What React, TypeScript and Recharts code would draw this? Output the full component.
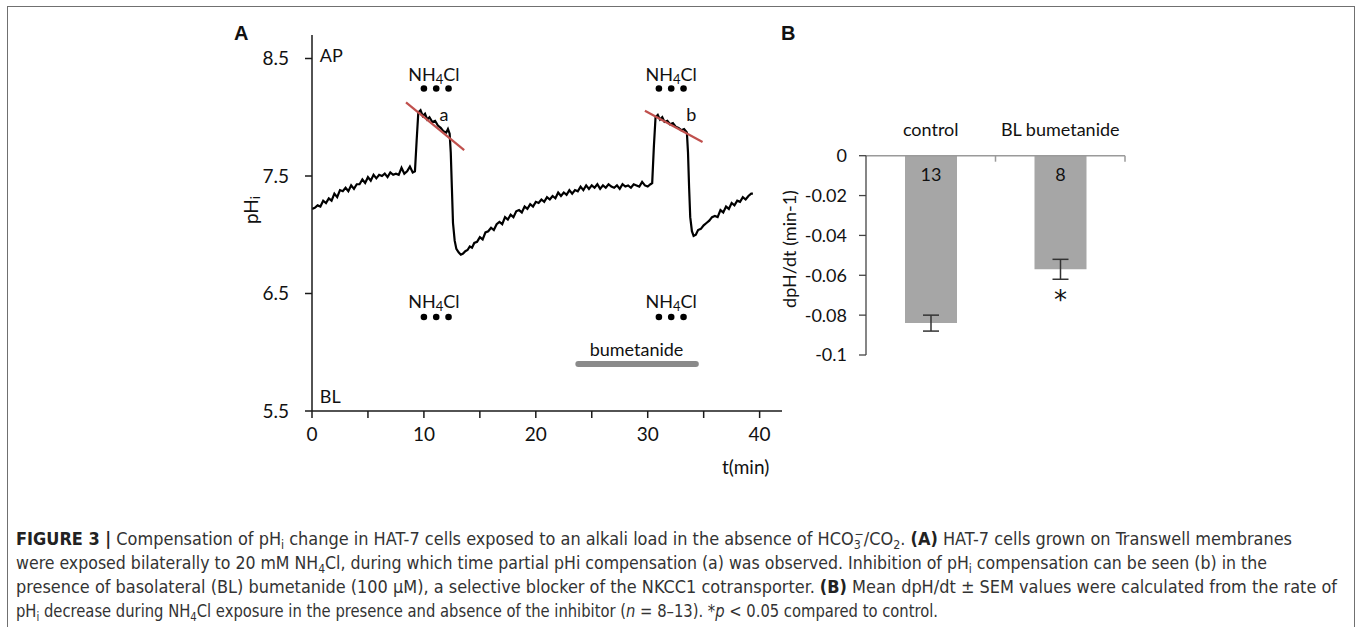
import React from "react";
import {
  LineChart,
  Line,
  XAxis,
  YAxis,
  ReferenceLine,
  ReferenceDot,
  BarChart,
  Bar,
  ErrorBar,
  LabelList,
} from "recharts";

// Panel A: pHi trace, [t (min), pH]
const trace: [number, number][] = [
  [0, 7.22], [0.25, 7.23], [0.5, 7.25], [0.75, 7.24], [1.0, 7.29], [1.25, 7.27],
  [1.5, 7.31], [1.75, 7.29], [2.0, 7.35], [2.25, 7.32], [2.5, 7.38], [2.75, 7.37],
  [3.0, 7.4], [3.25, 7.37], [3.5, 7.42], [3.75, 7.39], [4.0, 7.43], [4.25, 7.43],
  [4.5, 7.47], [4.75, 7.44], [5.0, 7.49], [5.25, 7.46], [5.5, 7.51], [5.75, 7.48],
  [6.0, 7.51], [6.25, 7.5], [6.5, 7.52], [6.75, 7.49], [7.0, 7.53], [7.25, 7.51],
  [7.5, 7.52], [7.75, 7.51], [8.0, 7.57], [8.25, 7.52], [8.5, 7.54], [8.75, 7.58],
  [9.0, 7.53], [9.2, 7.54], [9.35, 7.8], [9.5, 8.04], [9.7, 8.06], [9.9, 8.01],
  [10.1, 8.03], [10.3, 7.98], [10.5, 8.0], [10.75, 7.96], [11.0, 7.97], [11.25, 7.93],
  [11.5, 7.91], [11.75, 7.88], [12.0, 7.87], [12.15, 7.9], [12.3, 7.86], [12.4, 7.7],
  [12.5, 7.4], [12.6, 7.1], [12.75, 6.95], [12.9, 6.88], [13.1, 6.85], [13.3, 6.83],
  [13.5, 6.84], [13.7, 6.86], [13.9, 6.87], [14.1, 6.9], [14.3, 6.89], [14.5, 6.93],
  [14.75, 6.94], [15.0, 6.98], [15.25, 6.96], [15.5, 7.02], [15.75, 7.03], [16.0, 7.06],
  [16.25, 7.04], [16.5, 7.09], [16.75, 7.11], [17.0, 7.09], [17.25, 7.15], [17.5, 7.13],
  [17.75, 7.17], [18.0, 7.15], [18.25, 7.2], [18.5, 7.21], [18.75, 7.19], [19.0, 7.24],
  [19.25, 7.22], [19.5, 7.26], [19.75, 7.24], [20.0, 7.28], [20.25, 7.27], [20.5, 7.3],
  [20.75, 7.28], [21.0, 7.32], [21.25, 7.3], [21.5, 7.33], [21.75, 7.31], [22.0, 7.36],
  [22.25, 7.33], [22.5, 7.36], [22.75, 7.34], [23.0, 7.38], [23.25, 7.35], [23.5, 7.38],
  [23.75, 7.37], [24.0, 7.41], [24.25, 7.38], [24.5, 7.42], [24.75, 7.39], [25.0, 7.42],
  [25.25, 7.4], [25.5, 7.43], [25.75, 7.39], [26.0, 7.42], [26.25, 7.4], [26.5, 7.43],
  [26.75, 7.41], [27.0, 7.4], [27.25, 7.42], [27.5, 7.39], [27.75, 7.43], [28.0, 7.41],
  [28.25, 7.42], [28.5, 7.4], [28.75, 7.43], [29.0, 7.42], [29.25, 7.41], [29.5, 7.45],
  [29.75, 7.42], [30.0, 7.41], [30.25, 7.43], [30.4, 7.44], [30.55, 7.75], [30.7, 8.0],
  [30.9, 8.02], [31.1, 7.98], [31.3, 8.0], [31.5, 7.96], [31.75, 7.97], [32.0, 7.94],
  [32.25, 7.95], [32.5, 7.92], [32.75, 7.91], [33.0, 7.89], [33.25, 7.9], [33.5, 7.87],
  [33.6, 7.7], [33.7, 7.4], [33.8, 7.15], [33.95, 7.03], [34.1, 6.99], [34.3, 7.0],
  [34.5, 7.04], [34.75, 7.05], [35.0, 7.08], [35.25, 7.1], [35.5, 7.12], [35.75, 7.15],
  [36.0, 7.16], [36.25, 7.15], [36.5, 7.21], [36.75, 7.19], [37.0, 7.24], [37.25, 7.22],
  [37.5, 7.27], [37.75, 7.25], [38.0, 7.29], [38.25, 7.28], [38.5, 7.32], [38.75, 7.3],
  [39.0, 7.33], [39.25, 7.35], [39.4, 7.35],
];

const timeTicks = [0, 5, 10, 15, 20, 25, 30, 35, 40];
const phTicks = [5.5, 6.5, 7.5, 8.5];

// slope fits (red lines) a and b
const slopeA = [{ x: 8.4, y: 8.126 }, { x: 13.6, y: 7.72 }];
const slopeB = [{ x: 29.75, y: 8.055 }, { x: 34.9, y: 7.79 }];

// NH4Cl application dots (apical top row, basolateral bottom row)
const nh4Dots = [10.0, 11.1, 12.2, 31.0, 32.1, 33.2];
const nh4Labels = [10.9, 32.1];
const bumetanide = [23.8, 34.3];

// Panel B
const groups = ["control", "BL bumetanide"];
const rates = [-0.084, -0.057];
const sems = [0.004, 0.005];
const counts = ["13", "8"];
const marks = ["", "*"];
const rateTicks = [-0.1, -0.08, -0.06, -0.04, -0.02, 0];

const traceData = trace.map(([t, ph]) => ({ t, ph }));
const rateData = groups.map((g, i) => ({ group: g, rate: rates[i], sem: sems[i], n: counts[i], mark: marks[i] }));

const FONT = "Lato, 'Open Sans', sans-serif";
const CAP = "'Liberation Sans Narrow', 'DejaVu Sans Condensed', 'Liberation Sans', sans-serif";

const textAt = (txt: React.ReactNode, anchor: string = "middle", size = 18) => (p: any) => (
  <text
    x={p.viewBox.x}
    y={p.viewBox.y}
    textAnchor={anchor}
    dominantBaseline="central"
    fontSize={size}
    fontFamily={FONT}
    fill="#111"
  >
    {txt}
  </text>
);

const nh4 = (
  <>
    <tspan>NH</tspan>
    <tspan dy={5} fontSize={13}>4</tspan>
    <tspan dy={-5}>Cl</tspan>
  </>
);

const GroupTick = (props: any) => {
  const { x, y, payload } = props;
  const half = 64.75;
  return (
    <g>
      <text x={x} y={y - 20} textAnchor="middle" fontSize={18} fontFamily={FONT} fill="#111">
        {payload.value}
      </text>
      <line x1={x + half} x2={x + half} y1={y} y2={y + 6} stroke="#9a9a9a" strokeWidth={1.5} />
    </g>
  );
};

function PanelA() {
  return (
    <LineChart width={800} height={480} data={traceData} margin={{ top: 35, right: 18, left: 252, bottom: 39 }}>
      <XAxis
        dataKey="t"
        type="number"
        domain={[0, 42]}
        ticks={timeTicks}
        interval={0}
        height={30}
        tickSize={7}
        tickMargin={10}
        tickFormatter={(v: number) => (v % 10 === 0 ? String(v) : "")}
        axisLine={{ stroke: "#1a1a1a", strokeWidth: 1.5 }}
        tickLine={{ stroke: "#1a1a1a", strokeWidth: 1.5 }}
        tick={{ fill: "#111", fontSize: 19, fontFamily: FONT }}
        allowDataOverflow
      />
      <YAxis
        type="number"
        domain={[5.5, 8.7]}
        ticks={phTicks}
        interval={0}
        width={60}
        tickSize={7}
        tickMargin={16}
        tickFormatter={(v: number) => v.toFixed(1)}
        axisLine={{ stroke: "#1a1a1a", strokeWidth: 1.5 }}
        tickLine={{ stroke: "#1a1a1a", strokeWidth: 1.5 }}
        tick={{ fill: "#111", fontSize: 19, fontFamily: FONT }}
        allowDataOverflow
        label={(p: any) => {
          const cx = p.viewBox.x - 2;
          const cy = 210;
          return (
            <text
              x={cx}
              y={cy}
              transform={`rotate(-90, ${cx}, ${cy})`}
              textAnchor="middle"
              dominantBaseline="central"
              fontSize={19}
              fontFamily={FONT}
              fill="#111"
            >
              pH<tspan dy={5} fontSize={13}>i</tspan>
            </text>
          );
        }}
      />
      <ReferenceLine
        segment={[{ x: bumetanide[0], y: 5.9 }, { x: bumetanide[1], y: 5.9 }]}
        stroke="#8a8a8a"
        strokeWidth={6}
        strokeLinecap="round"
      />
      <Line dataKey="ph" type="linear" stroke="#000" strokeWidth={2.2} dot={false} isAnimationActive={false} />
      <ReferenceLine segment={slopeA} stroke="#c0504d" strokeWidth={2.2} />
      <ReferenceLine segment={slopeB} stroke="#c0504d" strokeWidth={2.2} />
      {nh4Dots.map((t) => (
        <ReferenceDot key={`top-${t}`} x={t} y={8.245} r={3.3} fill="#000" stroke="none" />
      ))}
      {nh4Dots.map((t) => (
        <ReferenceDot key={`bot-${t}`} x={t} y={6.3} r={3.3} fill="#000" stroke="none" />
      ))}
      {nh4Labels.map((t) => (
        <ReferenceDot key={`lt-${t}`} x={t} y={8.37} r={0} fill="none" stroke="none" label={textAt(nh4)} />
      ))}
      {nh4Labels.map((t) => (
        <ReferenceDot key={`lb-${t}`} x={t} y={6.44} r={0} fill="none" stroke="none" label={textAt(nh4)} />
      ))}
      <ReferenceDot x={0.7} y={8.53} r={0} fill="none" stroke="none" label={textAt("AP", "start")} />
      <ReferenceDot x={0.7} y={5.63} r={0} fill="none" stroke="none" label={textAt("BL", "start")} />
      <ReferenceDot x={11.8} y={8.03} r={0} fill="none" stroke="none" label={textAt("a")} />
      <ReferenceDot x={33.9} y={8.03} r={0} fill="none" stroke="none" label={textAt("b")} />
      <ReferenceDot x={29.0} y={6.03} r={0} fill="none" stroke="none" label={textAt("bumetanide")} />
    </LineChart>
  );
}

function PanelB() {
  return (
    <BarChart width={400} height={380} data={rateData} margin={{ top: 125.7, right: 35, left: 46, bottom: 25 }}>
      <XAxis
        dataKey="group"
        orientation="top"
        height={30}
        tickSize={0}
        tickMargin={0}
        interval={0}
        axisLine={{ stroke: "#9a9a9a", strokeWidth: 1.5 }}
        tickLine={false}
        tick={<GroupTick />}
      />
      <YAxis
        type="number"
        domain={[-0.1, 0]}
        ticks={rateTicks}
        interval={0}
        width={60}
        tickSize={7}
        tickMargin={12}
        tickFormatter={(v: number) => (v === 0 ? "0" : String(v))}
        axisLine={{ stroke: "#444", strokeWidth: 1.3 }}
        tickLine={{ stroke: "#444", strokeWidth: 1.3 }}
        tick={{ fill: "#111", fontSize: 18, fontFamily: FONT }}
        label={(p: any) => {
          const cx = p.viewBox.x - 17;
          const cy = 249;
          return (
            <text
              x={cx}
              y={cy}
              transform={`rotate(-90, ${cx}, ${cy})`}
              textAnchor="middle"
              dominantBaseline="central"
              fontSize={18}
              fontFamily={FONT}
              fill="#111"
            >
              dpH/dt (min-1)
            </text>
          );
        }}
      />
      <Bar dataKey="rate" fill="#a6a6a6" barSize={52} isAnimationActive={false}>
        <ErrorBar dataKey="sem" width={8} stroke="#333" strokeWidth={1.5} />
        <LabelList
          dataKey="n"
          content={(p: any) => (
            <text
              x={p.x + p.width / 2}
              y={Math.min(p.y, p.y + p.height) + 18}
              textAnchor="middle"
              dominantBaseline="central"
              fontSize={18}
              fontFamily={FONT}
              fill="#111"
            >
              {p.value}
            </text>
          )}
        />
        <LabelList
          dataKey="mark"
          content={(p: any) => (
            <text
              x={p.x + p.width / 2}
              y={Math.max(p.y, p.y + p.height) + 40}
              textAnchor="middle"
              fontSize={26}
              fontFamily="'DejaVu Sans', sans-serif"
              fill="#111"
            >
              {p.value}
            </text>
          )}
        />
      </Bar>
    </BarChart>
  );
}

function Caption() {
  const common = { fontSize: 17.5, fontFamily: CAP, fill: "#333", lengthAdjust: "spacingAndGlyphs" as const };
  return (
    <svg width={1360} height={110} style={{ position: "absolute", left: 0, top: 520 }}>
      <text x={16} y={25} textLength={1276} {...common}>
        <tspan fontWeight="bold" fill="#222">FIGURE 3 |</tspan>
        <tspan>{" Compensation of pH"}</tspan>
        <tspan dy={4} fontSize={12}>i</tspan>
        <tspan dy={-4}>{" change in HAT-7 cells exposed to an alkali load in the absence of HCO"}</tspan>
        <tspan dy={4} fontSize={12}>3</tspan>
        <tspan dx={-6} dy={-11} fontSize={12}>−</tspan>
        <tspan dy={7}>/CO</tspan>
        <tspan dy={4} fontSize={12}>2</tspan>
        <tspan dy={-4}>{". "}</tspan>
        <tspan fontWeight="bold" fill="#222">(A)</tspan>
        <tspan>{" HAT-7 cells grown on Transwell membranes"}</tspan>
      </text>
      <text x={16} y={49} textLength={1251} {...common}>
        <tspan>{"were exposed bilaterally to 20 mM NH"}</tspan>
        <tspan dy={4} fontSize={12}>4</tspan>
        <tspan dy={-4}>{"Cl, during which time partial pHi compensation (a) was observed. Inhibition of pH"}</tspan>
        <tspan dy={4} fontSize={12}>i</tspan>
        <tspan dy={-4}>{" compensation can be seen (b) in the"}</tspan>
      </text>
      <text x={16} y={73} textLength={1321} {...common}>
        <tspan>{"presence of basolateral (BL) bumetanide (100 μM), a selective blocker of the NKCC1 cotransporter. "}</tspan>
        <tspan fontWeight="bold" fill="#222">(B)</tspan>
        <tspan>{" Mean dpH/dt ± SEM values were calculated from the rate of"}</tspan>
      </text>
      <text x={16} y={97} textLength={922} {...common}>
        <tspan>pH</tspan>
        <tspan dy={4} fontSize={12}>i</tspan>
        <tspan dy={-4}>{" decrease during NH"}</tspan>
        <tspan dy={4} fontSize={12}>4</tspan>
        <tspan dy={-4}>{"Cl exposure in the presence and absence of the inhibitor ("}</tspan>
        <tspan fontStyle="italic">n</tspan>
        <tspan>{" = 8–13). *"}</tspan>
        <tspan fontStyle="italic">p</tspan>
        <tspan>{" < 0.05 compared to control."}</tspan>
      </text>
    </svg>
  );
}

export default function App() {
  return (
    <div
      style={{
        position: "absolute",
        left: 0,
        top: 0,
        width: 1360,
        height: 627,
        background: "#fff",
        overflow: "hidden",
        fontFamily: FONT,
      }}
    >
      <div
        style={{
          position: "absolute",
          left: 7,
          top: 6,
          width: 1348,
          height: 660,
          border: "1.5px solid #707070",
          boxSizing: "border-box",
        }}
      />
      <div style={{ position: "absolute", left: 0, top: 0 }}>
        <PanelA />
      </div>
      <div style={{ position: "absolute", left: 760, top: 0 }}>
        <PanelB />
      </div>
      <div style={{ position: "absolute", left: 234, top: 22, fontSize: 20, fontWeight: "bold", fontFamily: "'Liberation Sans', Arial, sans-serif", color: "#111" }}>
        A
      </div>
      <div style={{ position: "absolute", left: 781, top: 22, fontSize: 20, fontWeight: "bold", fontFamily: "'Liberation Sans', Arial, sans-serif", color: "#111" }}>
        B
      </div>
      <div style={{ position: "absolute", left: 722, top: 455, fontSize: 19, fontFamily: FONT, color: "#111" }}>
        t(min)
      </div>
      <Caption />
    </div>
  );
}
